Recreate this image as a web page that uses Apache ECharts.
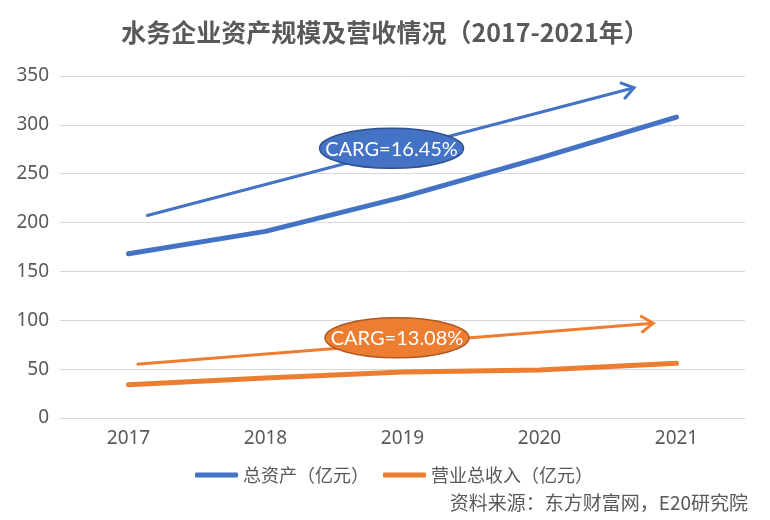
<!DOCTYPE html>
<html><head><meta charset="utf-8">
<script src="https://cdn.jsdelivr.net/npm/echarts@6/dist/echarts.min.js"></script>
<style>html,body{margin:0;padding:0;background:#fff}#c{width:770px;height:520px}</style>
</head><body><div id="c"></div>
<script>
const years = ['2017','2018','2019','2020','2021'];
const totalAssets = [168, 191, 226, 266, 308];
const revenue = [34, 41, 47, 49, 56];
const yTicks = [0, 350, 50];
// arrows in data space: [xStart, yStart, xEnd, yEnd] (x as category index)
const assetArrow = [0.13, 207, 3.69, 338];
const revenueArrow = [0.06, 55, 3.83, 97];
// CAGR labels: [x, y, text]
const assetLabel = [1.92, 276, 'CARG=16.45%'];
const revenueLabel = [1.96, 82, 'CARG=13.08%'];

const BLUE = '#4472C4', ORANGE = '#ED7D31';
const CJK = '"Noto Sans CJK SC","Microsoft YaHei",sans-serif';
const NUM = '"Noto Sans","Noto Sans CJK SC",sans-serif';

const chart = echarts.init(document.getElementById('c'));

function arrowItem(color) {
  return function (params, api) {
    const p1 = api.coord([api.value(0), api.value(1)]);
    const p2 = api.coord([api.value(2), api.value(3)]);
    const a = Math.atan2(p2[1] - p1[1], p2[0] - p1[0]);
    const L = 15, s = 0.6;
    const h1 = [p2[0] - L * Math.cos(a - s), p2[1] - L * Math.sin(a - s)];
    const h2 = [p2[0] - L * Math.cos(a + s), p2[1] - L * Math.sin(a + s)];
    return {
      type: 'group', children: [
        { type: 'line', shape: { x1: p1[0], y1: p1[1], x2: p2[0], y2: p2[1] }, style: { stroke: color, lineWidth: 3 } },
        { type: 'polyline', shape: { points: [h1, p2, h2] }, style: { stroke: color, lineWidth: 3, fill: null } }
      ]
    };
  };
}
function labelItem(fill, border) {
  return function (params, api) {
    const c = api.coord([api.value(0), api.value(1)]);
    return {
      type: 'group', children: [
        { type: 'ellipse', shape: { cx: c[0], cy: c[1], rx: 72, ry: 20 }, style: { fill: fill, stroke: border, lineWidth: 1.5 } },
        { type: 'text', style: { text: api.value(2), x: c[0], y: c[1] + 1, align: 'center', verticalAlign: 'middle', fill: '#fff', font: '20px Lato, "Liberation Sans", sans-serif' } }
      ]
    };
  };
}

chart.setOption({
  animation: false,
  title: {
    text: '水务企业资产规模及营收情况（2017-2021年）',
    left: 'center', top: 15,
    textStyle: { fontFamily: CJK, fontSize: 25, fontWeight: 'bold', color: '#595959' }
  },
  grid: { left: 60, right: 25, top: 76, bottom: 102 },
  legend: {
    left: 190, top: 461, itemWidth: 43, itemHeight: 5, itemGap: 14,
    icon: 'roundRect',
    textStyle: { fontFamily: CJK, fontSize: 18, color: '#595959' },
    data: ['总资产（亿元）', '营业总收入（亿元）']
  },
  graphic: [{
    type: 'text', right: 22, top: 493,
    style: { text: '资料来源：东方财富网，E20研究院', font: '19px ' + CJK, fill: '#595959' }
  }],
  xAxis: [{
    type: 'category', data: years, boundaryGap: true,
    axisLine: { show: true, lineStyle: { color: '#D9D9D9' } }, axisTick: { show: false },
    axisLabel: { fontFamily: NUM, fontSize: 19, color: '#595959', margin: 11 }
  }, {
    type: 'value', min: -0.5, max: 4.5, show: false
  }],
  yAxis: {
    type: 'value', min: yTicks[0], max: yTicks[1], interval: yTicks[2],
    axisLine: { show: false }, axisTick: { show: false },
    splitLine: { lineStyle: { color: '#D9D9D9', width: 1 } },
    axisLabel: { fontFamily: NUM, fontSize: 19, color: '#595959', margin: 11 }
  },
  series: [
    { name: '总资产（亿元）', type: 'line', data: totalAssets, symbol: 'none', itemStyle: { color: BLUE },
      lineStyle: { color: BLUE, width: 5, cap: 'round' }, z: 3 },
    { name: '营业总收入（亿元）', type: 'line', data: revenue, symbol: 'none', itemStyle: { color: ORANGE },
      lineStyle: { color: ORANGE, width: 5, cap: 'round' }, z: 3 },
    { type: 'custom', xAxisIndex: 1, renderItem: arrowItem(BLUE), data: [assetArrow], z: 4, silent: true },
    { type: 'custom', xAxisIndex: 1, renderItem: arrowItem(ORANGE), data: [revenueArrow], z: 4, silent: true },
    { type: 'custom', xAxisIndex: 1, renderItem: labelItem(BLUE, '#2F528F'), data: [assetLabel], z: 5, silent: true },
    { type: 'custom', xAxisIndex: 1, renderItem: labelItem(ORANGE, '#AE5A21'), data: [revenueLabel], z: 5, silent: true }
  ]
});
</script></body></html>
